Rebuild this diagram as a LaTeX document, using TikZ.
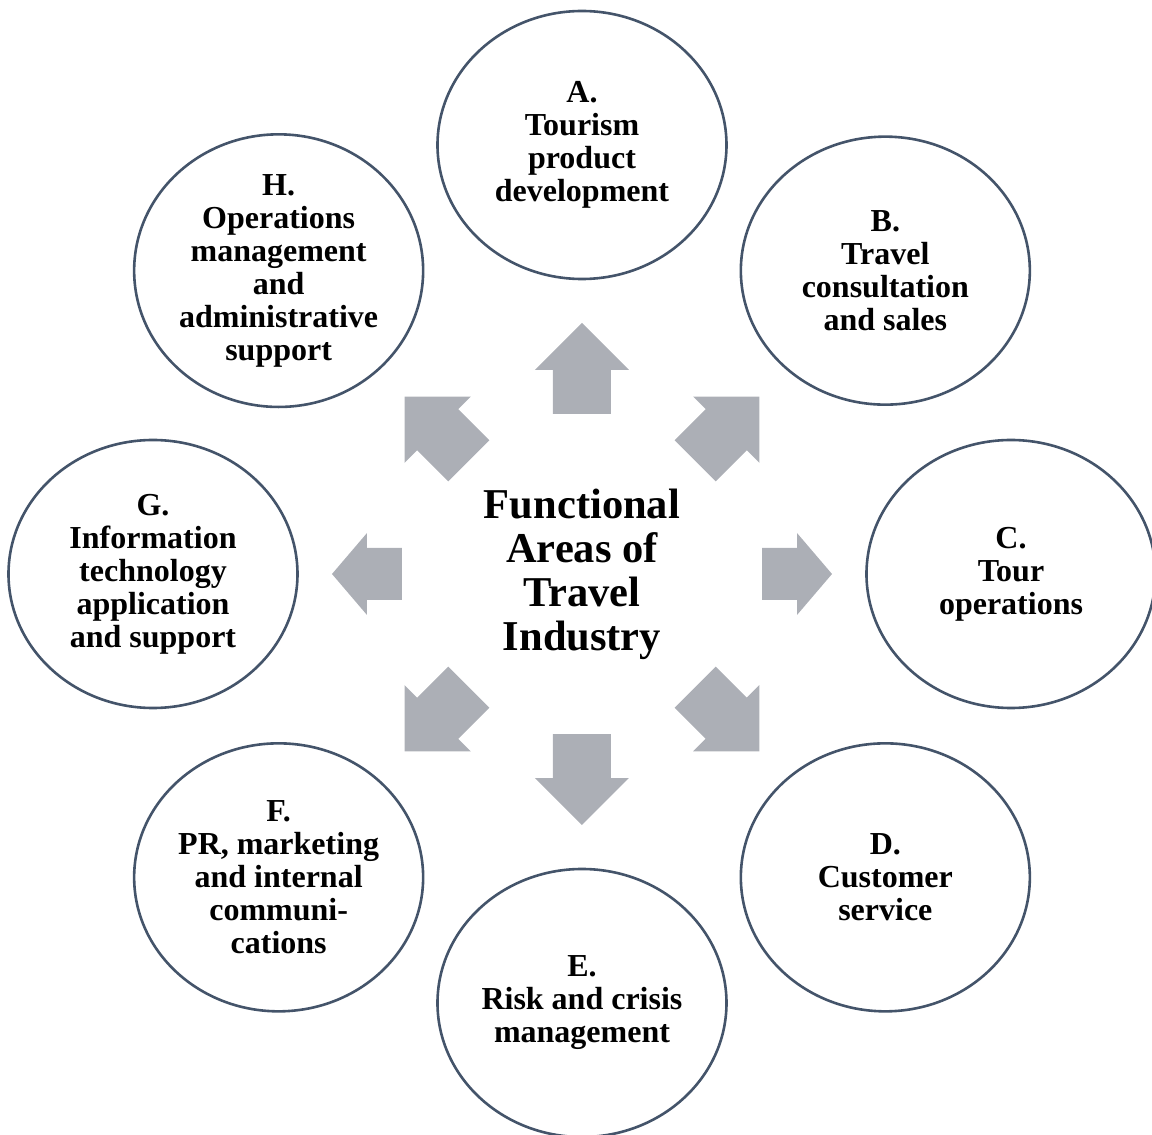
\documentclass[tikz,border=0pt]{standalone}
\usepackage{fontspec}
\setmainfont{Liberation Serif}
\usetikzlibrary{shapes.geometric}
\definecolor{rim}{RGB}{68,84,106}
\definecolor{blockgray}{RGB}{172,175,182}

\begin{document}
\begin{tikzpicture}[x=0.5pt,y=0.5pt,
    area/.style={ellipse,draw=rim,line width=1.3pt,fill=white,
        minimum width=144.5pt,minimum height=134pt,inner sep=0pt,align=center,
        font=\fontsize{16}{16.5}\selectfont\bfseries},
    hubtext/.style={align=center,font=\fontsize{21.25}{22}\selectfont\bfseries},
    blockarrow/.style={fill=blockgray}]
            \useasboundingbox (-582,-561) rectangle (570,574);

            \node[hubtext] (hub) at (0,0) {Functional\\Areas of\\Travel\\Industry};

            \node[area] (A) at (90:429) {A.\\Tourism\\product\\development};
            \node[area] (B) at (45:429) {B.\\Travel\\consultation\\and sales};
            \node[area] (C) at (0:429) {C.\\Tour\\operations};
            \node[area] (D) at (315:429) {D.\\Customer\\service};
            \node[area] (E) at (270:429) {E.\\Risk and crisis\\management};
            \node[area] (F) at (225:429) {F.\\PR, marketing\\and internal\\communi-\\cations};
            \node[area] (G) at (180:429) {G.\\Information\\technology\\application\\and support};
            \node[area] (H) at (135:429) {H.\\Operations\\management\\and\\administrative\\support};

            \foreach \ang in {45,90,135,225,270,315}
                \fill[blockarrow,shift={(hub.center)},rotate=\ang] (160,-29) -- (204,-29) -- (204,-47) -- (251,0) -- (204,47) -- (204,29) -- (160,29) -- cycle;
            \foreach \ang in {0,180}
                \fill[blockarrow,shift={(hub.center)},rotate=\ang] (180,-26) -- (215,-26) -- (215,-41) -- (250,0) -- (215,41) -- (215,26) -- (180,26) -- cycle;
        \end{tikzpicture}
\end{document}
